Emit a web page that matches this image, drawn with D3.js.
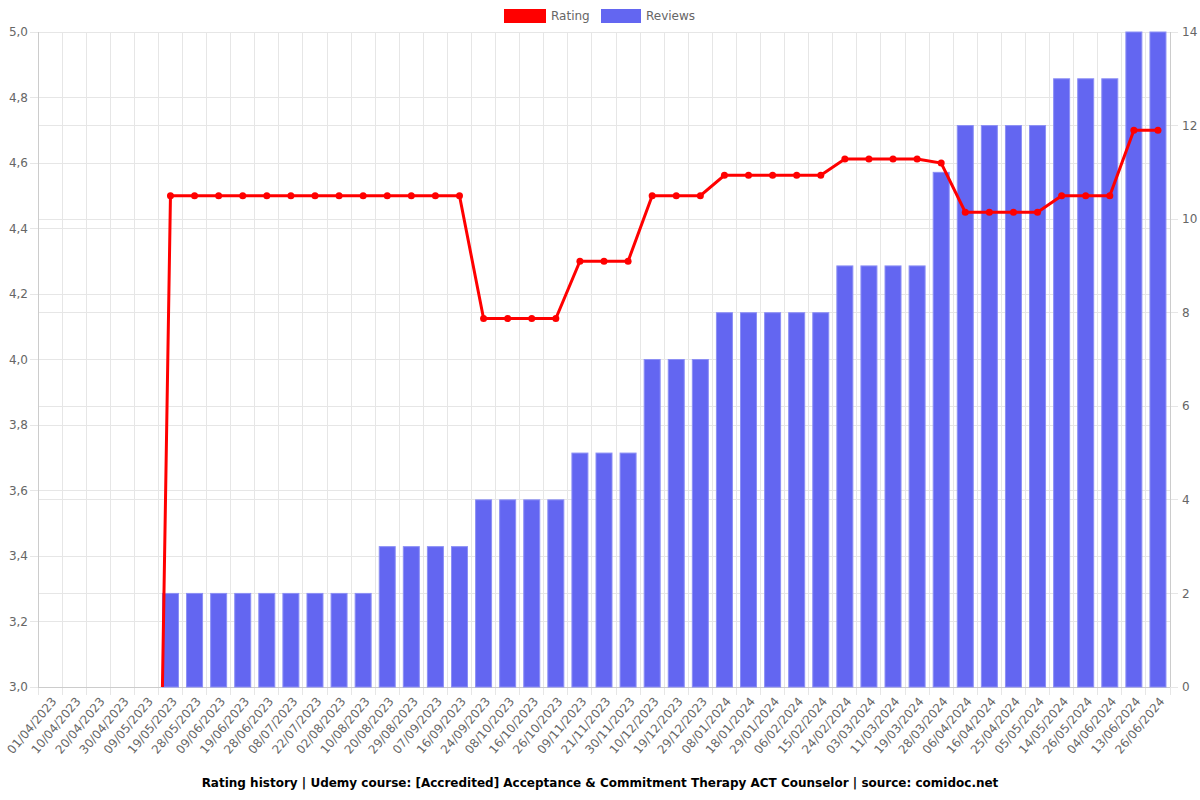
<!DOCTYPE html>
<html><head><meta charset="utf-8">
<script src="https://cdn.jsdelivr.net/npm/d3@7/dist/d3.min.js"></script>
<style>body{margin:0;background:#fff}text{font-family:"DejaVu Sans",sans-serif}</style>
</head><body><svg id="c" width="1200" height="800"></svg>
<script>
const categories = ["01/04/2023","10/04/2023","20/04/2023","30/04/2023","09/05/2023","19/05/2023","28/05/2023","09/06/2023","19/06/2023","28/06/2023","08/07/2023","22/07/2023","02/08/2023","10/08/2023","20/08/2023","29/08/2023","07/09/2023","16/09/2023","24/09/2023","08/10/2023","16/10/2023","26/10/2023","09/11/2023","21/11/2023","30/11/2023","10/12/2023","19/12/2023","29/12/2023","08/01/2024","18/01/2024","29/01/2024","06/02/2024","15/02/2024","24/02/2024","03/03/2024","11/03/2024","19/03/2024","28/03/2024","06/04/2024","16/04/2024","25/04/2024","05/05/2024","14/05/2024","26/05/2024","04/06/2024","13/06/2024","26/06/2024"];
const rating = [0,0,0,0,0,4.5,4.5,4.5,4.5,4.5,4.5,4.5,4.5,4.5,4.5,4.5,4.5,4.5,4.125,4.125,4.125,4.125,4.3,4.3,4.3,4.5,4.5,4.5,4.5625,4.5625,4.5625,4.5625,4.5625,4.6125,4.6125,4.6125,4.6125,4.6,4.45,4.45,4.45,4.45,4.5,4.5,4.5,4.7,4.7];
const reviews = [0,0,0,0,0,2,2,2,2,2,2,2,2,2,3,3,3,3,4,4,4,4,5,5,5,7,7,7,8,8,8,8,8,9,9,9,9,11,12,12,12,12,13,13,13,14,14];
const leftTicks = [3.0,3.2,3.4,3.6,3.8,4.0,4.2,4.4,4.6,4.8,5.0];
const rightTicks = [0,2,4,6,8,10,12,14];
const title = "Rating history | Udemy course: [Accredited] Acceptance & Commitment Therapy ACT Counselor | source: comidoc.net";

const svg = d3.select("#c");
const L = 38, R = 1170, T = 32, B = 687;
const x = d3.scaleBand().domain(categories).range([L, R]);
const yL = d3.scaleLinear().domain([3, 5]).range([B, T]);
const yR = d3.scaleLinear().domain([0, 14]).range([B, T]);
const grid = "#e6e6e6";

// grids
const g = svg.append("g");
const edges = categories.map(c => x(c)).concat([R]);
g.selectAll(".vg").data(edges).join("line")
  .attr("x1", d => d).attr("x2", d => d).attr("y1", T).attr("y2", B + 8)
  .attr("stroke", grid).attr("stroke-width", 1).attr("shape-rendering", "crispEdges");
g.selectAll(".hl").data(leftTicks).join("line")
  .attr("x1", L - 8).attr("x2", R).attr("y1", d => yL(d)).attr("y2", d => yL(d))
  .attr("stroke", grid).attr("shape-rendering", "crispEdges");
g.selectAll(".hr").data(rightTicks).join("line")
  .attr("x1", L).attr("x2", R + 8).attr("y1", d => yR(d)).attr("y2", d => yR(d))
  .attr("stroke", grid).attr("shape-rendering", "crispEdges");
// borders
svg.append("line").attr("x1", L).attr("x2", L).attr("y1", T).attr("y2", B).attr("stroke", "#ccc").attr("shape-rendering", "crispEdges");
svg.append("line").attr("x1", R).attr("x2", R).attr("y1", T).attr("y2", B).attr("stroke", "#ccc").attr("shape-rendering", "crispEdges");
svg.append("line").attr("x1", L).attr("x2", R).attr("y1", B).attr("y2", B).attr("stroke", "#ccc").attr("shape-rendering", "crispEdges");

// axis labels
const fmt = d3.format(".1f");
svg.selectAll(".lt").data(leftTicks).join("text")
  .attr("x", L - 10).attr("y", d => yL(d)).attr("dy", "0.35em").attr("text-anchor", "end")
  .attr("font-size", 12).attr("fill", "#666").text(d => fmt(d).replace(".", ","));
svg.selectAll(".rt").data(rightTicks).join("text")
  .attr("x", R + 12).attr("y", d => yR(d)).attr("dy", "0.35em").attr("text-anchor", "start")
  .attr("font-size", 12).attr("fill", "#666").text(d => d);
svg.selectAll(".xt").data(categories).join("text")
  .attr("transform", d => `translate(${x(d) + x.bandwidth() / 2 + 4},${B + 12}) rotate(-50)`)
  .attr("text-anchor", "end").attr("dy", "0.35em")
  .attr("font-size", 12).attr("fill", "#666").text(d => d);

// bars
const bw = 16;
svg.append("g").selectAll("rect").data(reviews.map((v, i) => ({c: categories[i], v})).filter(d => d.v > 0)).join("rect")
  .attr("x", d => x(d.c) + (x.bandwidth() - bw) / 2).attr("width", bw)
  .attr("y", d => yR(d.v)).attr("height", d => B - yR(d.v))
  .attr("fill", "#6366f1").attr("stroke", "#8c8ff5").attr("stroke-width", 1);

// line (clipped)
svg.append("clipPath").attr("id", "clip").append("rect").attr("x", L).attr("y", T - 5).attr("width", R - L).attr("height", B - T + 5);
const pts = rating.map((v, i) => [x(categories[i]) + x.bandwidth() / 2, yL(v)]);
const lg = svg.append("g").attr("clip-path", "url(#clip)");
lg.append("path").attr("d", d3.line()(pts)).attr("fill", "none").attr("stroke", "#ff0000").attr("stroke-width", 3);
lg.selectAll("circle").data(pts.filter((p, i) => rating[i] >= 3)).join("circle")
  .attr("cx", d => d[0]).attr("cy", d => d[1]).attr("r", 3.5).attr("fill", "#ff0000");

// legend
const leg = svg.append("g");
leg.append("rect").attr("x", 504).attr("y", 9).attr("width", 42).attr("height", 14).attr("fill", "#ff0000");
leg.append("text").attr("x", 551).attr("y", 16).attr("dy", "0.35em").attr("font-size", 12).attr("fill", "#666").text("Rating");
leg.append("rect").attr("x", 601).attr("y", 9).attr("width", 40).attr("height", 14).attr("fill", "#6366f1");
leg.append("text").attr("x", 646).attr("y", 16).attr("dy", "0.35em").attr("font-size", 12).attr("fill", "#666").text("Reviews");

// title
svg.append("text").attr("x", 600).attr("y", 787).attr("text-anchor", "middle")
  .attr("font-size", 12).attr("font-weight", "bold").attr("fill", "#000").text(title);
</script></body></html>
